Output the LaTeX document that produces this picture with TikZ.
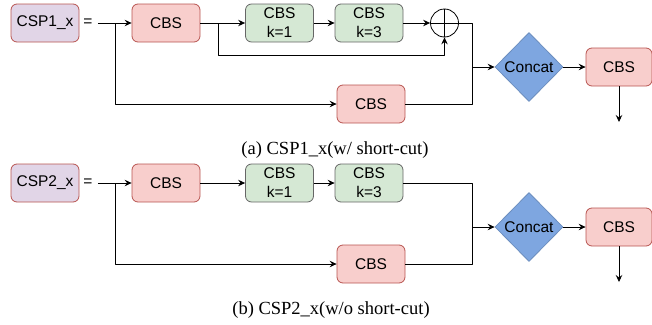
\documentclass[tikz,border=0pt]{standalone}
\usepackage{fontspec}
\setmainfont{Liberation Serif}
\setsansfont{Liberation Sans}
\usetikzlibrary{arrows.meta}
\usetikzlibrary{shapes.geometric}

\definecolor{cbsfill}{HTML}{F8CECC}
\definecolor{cbsline}{HTML}{B85450}
\definecolor{kfill}{HTML}{D5E8D4}
\definecolor{kline}{HTML}{666666}
\definecolor{cspfill}{HTML}{E1D5E7}
\definecolor{catfill}{HTML}{7EA6E0}
\definecolor{catline}{HTML}{6C8EBF}

\begin{document}
\begin{tikzpicture}[line join=round,>={Stealth[length=7pt,width=6.5pt,inset=2.5pt]},x=1pt,y=-1pt,line width=0.8pt,
    box/.style={draw,rounded corners=6pt,minimum width=68pt,minimum height=38pt,inner sep=0pt,align=center,font=\sffamily\fontsize{15.5}{19}\selectfont},
    cbs/.style={box,fill=cbsfill,draw=cbsline},
    cbsk/.style={box,fill=kfill,draw=kline},
    cspbox/.style={box,fill=cspfill,draw=cbsline},
    concat/.style={diamond,draw=catline,fill=catfill,minimum width=68pt,minimum height=69pt,inner sep=0pt,font=\sffamily\fontsize{15.5}{19}\selectfont},
    captext/.style={font=\fontsize{18.5}{20}\selectfont}]
  \useasboundingbox (0,0) rectangle (652,324);
  % parts shared by both blocks
  \foreach \p/\oy in {1/0,2/160}{
    \node[cspbox] (csp\p) at (45,23+\oy) {CSP\p\_x};
    \node[inner sep=5pt,font=\sffamily\fontsize{15.5}{19}\selectfont] (eq\p) at (88,23+\oy) {=};
    \node[cbs] (in\p) at (166,23+\oy) {CBS};
    \node[cbsk] (ka\p) at (279.5,23+\oy) {CBS\\k=1};
    \node[cbsk] (kb\p) at (369,23+\oy) {CBS\\k=3};
    \node[cbs] (side\p) at (371,104+\oy) {CBS};
    \node[concat] (cat\p) at (529,67+\oy) {Concat};
    \node[cbs,minimum width=66pt] (out\p) at (619,67+\oy) {CBS};
    \coordinate (fork\p) at (115,23+\oy);
    \coordinate (join\p) at (472,67+\oy);
    \coordinate (end\p) at (619,122+\oy);
    \draw[->] (eq\p) -- (in\p);
    \draw[->] (fork\p) |- (side\p);
    \draw[->] (ka\p) -- (kb\p);
    \draw (side\p) -| (join\p);
    \draw[->] (join\p) -- (cat\p);
    \draw[->] (cat\p) -- (out\p);
    \draw[->] (out\p) -- (end\p);
  }
  % with short-cut
  \coordinate (tap) at (218,23);
  \node[draw,circle,minimum size=28pt,inner sep=0pt] (sum) at (444.5,23) {};
  \draw (sum.north) -- (sum.south) (sum.west) -- (sum.east);
  \draw[->] (in1) -- (ka1);
  \draw[->] (tap) -- ++(0,32) -| (sum.south);
  \draw[->] (kb1) -- (sum);
  \draw (sum) -| (join1);
  % without short-cut
  \draw[->] (in2) -- (ka2);
  \draw (kb2) -| (join2);
  \node[captext] (capa) at (335,150) {(a) CSP1\_x(w/ short-cut)};
  \node[captext] (capb) at (331,310) {(b) CSP2\_x(w/o short-cut)};
\end{tikzpicture}
\end{document}
